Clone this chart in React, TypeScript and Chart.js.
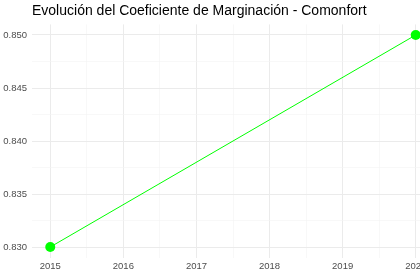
import React, { useEffect, useRef } from 'react';
import { Chart, registerables } from 'chart.js';

Chart.register(...registerables);

// ---- data ----
const years: number[] = [2015, 2020];
const coefficient: number[] = [0.83, 0.85];
const titleText = 'Evolución del Coeficiente de Marginación - Comonfort';
const xTitle = 'Año';
const xMajorTicks: number[] = [2015, 2016, 2017, 2018, 2019, 2020];
const xMinorTicks: number[] = [2015.5, 2016.5, 2017.5, 2018.5, 2019.5];
const yMajorTicks: number[] = [0.83, 0.835, 0.84, 0.845, 0.85];
const yMinorTicks: number[] = [0.8325, 0.8375, 0.8425, 0.8475];
const xRange = [2014.75, 2020.25];
const yRange = [0.829, 0.851];

// ---- layout ----
const W = 440;
const H = 300;
const AREA_LEFT = 32;
const AREA_RIGHT = 434;
const AREA_BOTTOM = 257.6;
const FONT = "'Liberation Sans', Arial, Helvetica, sans-serif";

const isIn = (arr: number[], v: number) => arr.some((a) => Math.abs(a - v) < 1e-7);

export default function App() {
  const ref = useRef<HTMLCanvasElement>(null);

  useEffect(() => {
    if (!ref.current) return;
    const chart = new Chart(ref.current, {
      type: 'line',
      data: {
        datasets: [
          {
            data: years.map((y, i) => ({ x: y, y: coefficient[i] })),
            borderColor: '#00ff00',
            backgroundColor: '#00ff00',
            borderWidth: 1,
            pointRadius: 5,
            pointBackgroundColor: '#00ff00',
            pointBorderWidth: 0,
            pointHoverRadius: 5,
            clip: false as any,
            tension: 0,
          },
        ],
      },
      options: {
        animation: false,
        responsive: false,
        devicePixelRatio: 1,
        events: [],
        layout: { padding: { left: 0, right: W - AREA_RIGHT, top: 0, bottom: 0 } },
        plugins: {
          legend: { display: false },
          tooltip: { enabled: false },
          title: {
            display: true,
            text: titleText,
            align: 'start',
            fullSize: false,
            color: '#000000',
            font: { family: FONT, size: 14, weight: 'normal' as any, lineHeight: 1.2 },
            padding: { top: 2.3, bottom: 5.3 },
          },
        },
        scales: {
          x: {
            type: 'linear',
            min: xRange[0],
            max: xRange[1],
            border: { display: false },
            afterBuildTicks: (scale: any) => {
              scale.ticks = [...xMajorTicks, ...xMinorTicks]
                .sort((a, b) => a - b)
                .map((v) => ({ value: v }));
            },
            grid: {
              drawTicks: false,
              color: (ctx: any) => (isIn(xMajorTicks, ctx.tick.value) ? '#ebebeb' : '#f3f3f3'),
              lineWidth: (ctx: any) => (isIn(xMajorTicks, ctx.tick.value) ? 1 : 0.6),
            },
            ticks: {
              autoSkip: false,
              maxRotation: 0,
              padding: 3,
              color: '#4d4d4d',
              font: { family: FONT, size: 9.5 },
              callback: (v: any) => (isIn(xMajorTicks, Number(v)) ? String(Math.round(Number(v))) : ''),
            },
            title: {
              display: true,
              text: xTitle,
              color: '#000000',
              font: { family: FONT, size: 11.7 },
              padding: { top: 0, bottom: 9.5 },
            },
            afterFit: (scale: any) => {
              scale.height = H - AREA_BOTTOM;
            },
          },
          y: {
            type: 'linear',
            min: yRange[0],
            max: yRange[1],
            border: { display: false },
            afterBuildTicks: (scale: any) => {
              scale.ticks = [...yMajorTicks, ...yMinorTicks]
                .sort((a, b) => a - b)
                .map((v) => ({ value: v }));
            },
            grid: {
              drawTicks: false,
              color: (ctx: any) => (isIn(yMajorTicks, ctx.tick.value) ? '#ebebeb' : '#f3f3f3'),
              lineWidth: (ctx: any) => (isIn(yMajorTicks, ctx.tick.value) ? 1 : 0.6),
            },
            ticks: {
              autoSkip: false,
              padding: 5,
              color: '#4d4d4d',
              font: { family: FONT, size: 9.5 },
              callback: (v: any) => (isIn(yMajorTicks, Number(v)) ? Number(v).toFixed(3) : ''),
            },
            afterFit: (scale: any) => {
              scale.width = AREA_LEFT;
            },
          },
        },
      },
    });
    return () => chart.destroy();
  }, []);

  return (
    <div
      style={{
        position: 'fixed',
        left: 0,
        top: 0,
        width: 420,
        height: 278,
        overflow: 'hidden',
        background: '#ffffff',
      }}
    >
      <canvas ref={ref} width={W} height={H} style={{ width: W, height: H, display: 'block' }} />
    </div>
  );
}
